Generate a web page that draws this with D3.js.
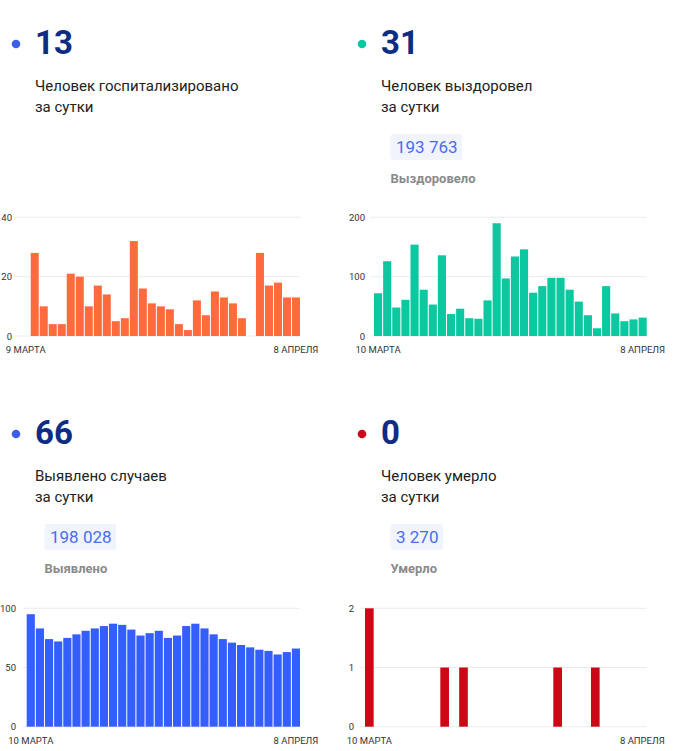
<!DOCTYPE html>
<html>
<head>
<meta charset="utf-8">
<script src="https://cdn.jsdelivr.net/npm/d3@7"></script>
<style>
  html, body { margin: 0; padding: 0; background: #fff; }
  svg { display: block; font-family: Roboto, "Noto Sans", sans-serif; }
</style>
</head>
<body>
<svg id="chart" width="691" height="751"></svg>
<script>
// ---- DATA ----
const hospitalized = [0, 28, 10, 4, 4, 21, 20, 10, 17, 14, 5, 6, 32, 16, 11, 10, 9, 4, 2, 12, 7, 15, 13, 11, 6, 0, 28, 17, 18, 13, 13];
const recovered = [72, 126, 48, 61, 154, 78, 53, 136, 37, 46, 30, 29, 60, 190, 97, 134, 146, 73, 84, 98, 98, 78, 58, 35, 13, 84, 38, 25, 28, 31];
const detected = [95, 83, 74, 72, 75, 78, 81, 83, 85, 87, 86, 82, 77, 79, 81, 75, 77, 85, 87, 83, 78, 74, 71, 69, 67, 65, 64, 61, 63, 66];
const deaths = [2, 0, 0, 0, 0, 0, 0, 0, 1, 0, 1, 0, 0, 0, 0, 0, 0, 0, 0, 0, 1, 0, 0, 0, 1, 0, 0, 0, 0, 0];

const hospDateLabels = ["9 МАРТА", "8 АПРЕЛЯ"];
const dateLabels = ["10 МАРТА", "8 АПРЕЛЯ"];

const hospTicks = [0, 20, 40];
const recTicks = [0, 100, 200];
const detTicks = [0, 50, 100];
const deathTicks = [0, 1, 2];

const headValues = ["13", "31", "66", "0"];
const headLine1 = ["Человек госпитализировано", "Человек выздоровел", "Выявлено случаев", "Человек умерло"];
const headLine2 = ["за сутки", "за сутки", "за сутки", "за сутки"];
const totals = [null, "193 763", "198 028", "3 270"];
const totalLabels = [null, "Выздоровело", "Выявлено", "Умерло"];

// ---- LAYOUT ----
const svg = d3.select("#chart");
const cards = [
  { ox: 0,   oy: 0,   color: "#ff6b3d", dot: "#3d5ee8", values: hospitalized, ticks: hospTicks, labels: hospDateLabels,
    gridL: 15, x0: 21.7, x1: 300, labelR: 12, yTop: 217.3, yBot: 336, pad: 0.11 },
  { ox: 346, oy: 0,   color: "#0cc8a0", dot: "#0cc8a0", values: recovered, ticks: recTicks, labels: dateLabels,
    gridL: 371, x0: 374, x1: 646.7, labelR: 365, yTop: 217.3, yBot: 336, pad: 0.11 },
  { ox: 0,   oy: 390, color: "#345eff", dot: "#3d5ee8", values: detected, ticks: detTicks, labels: dateLabels,
    gridL: 23, x0: 26.7, x1: 300, labelR: 16, yTop: 608.3, yBot: 726.7, pad: 0.11 },
  { ox: 346, oy: 390, color: "#cc0816", dot: "#cc0816", values: deaths, ticks: deathTicks, labels: dateLabels,
    gridL: 360, x0: 365, x1: 646.7, labelR: 354, yTop: 608.3, yBot: 726.7, pad: 0.08 }
];

cards.forEach((c, i) => {
  const g = svg.append("g");
  // header
  g.append("circle").attr("cx", c.ox + 16).attr("cy", c.oy + 44).attr("r", 4.3).attr("fill", c.dot);
  g.append("text").attr("x", c.ox + 35).attr("y", c.oy + 54.3)
    .attr("font-size", 33).attr("font-weight", 700).attr("fill", "#0d2d84").text(headValues[i]);
  g.append("text").attr("x", c.ox + 35).attr("y", c.oy + 91)
    .attr("font-size", 15).attr("fill", "#222").text(headLine1[i]);
  g.append("text").attr("x", c.ox + 35).attr("y", c.oy + 111.5)
    .attr("font-size", 15).attr("fill", "#222").text(headLine2[i]);

  if (totals[i]) {
    const bx = c.ox + 44.5, by = c.oy + 134;
    const t = g.append("text").attr("x", bx + 5.5).attr("y", by + 19.3)
      .attr("font-size", 17).attr("fill", "#4a6cf2").text(totals[i]);
    const w = t.node().getComputedTextLength();
    g.insert("rect", "text").attr("x", bx).attr("y", by).attr("width", w + 10).attr("height", 26)
      .attr("rx", 3).attr("fill", "#f1f4fc");
    g.append("text").attr("x", bx).attr("y", c.oy + 183.3)
      .attr("font-size", 13).attr("font-weight", 700).attr("fill", "#8a8a8a").text(totalLabels[i]);
  }

  // chart
  const n = c.values.length;
  const x = d3.scaleBand().domain(d3.range(n)).range([c.x0, c.x1]).paddingInner(c.pad).paddingOuter(0);
  const y = d3.scaleLinear().domain([0, d3.max(c.ticks)]).range([c.yBot, c.yTop]);

  g.append("g").selectAll("line").data(c.ticks).join("line")
    .attr("x1", c.gridL).attr("x2", c.x1)
    .attr("y1", d => y(d)).attr("y2", d => y(d))
    .attr("stroke", "#ececec").attr("stroke-width", 1);

  const ya = g.append("g").attr("transform", `translate(${c.labelR},0)`)
    .call(d3.axisLeft(y).tickValues(c.ticks).tickSize(0).tickPadding(0).tickFormat(d3.format("d")));
  ya.select(".domain").remove();
  ya.selectAll("text").attr("font-size", 9.5).attr("fill", "#333").attr("font-family", "Roboto, sans-serif");

  g.append("g").selectAll("rect").data(c.values).join("rect")
    .attr("x", (d, j) => x(j)).attr("width", x.bandwidth())
    .attr("y", d => y(d)).attr("height", d => y(0) - y(d))
    .attr("fill", c.color);

  const xa = g.append("g").attr("transform", `translate(0,${c.yBot + 1.5})`)
    .call(d3.axisBottom(x).tickValues([0, n - 1]).tickSize(0).tickPadding(9)
      .tickFormat((d, k) => c.labels[k]));
  xa.select(".domain").remove();
  xa.selectAll("text").attr("font-size", 9.5).attr("fill", "#333").attr("font-family", "Roboto, sans-serif");
});
</script>
</body>
</html>
